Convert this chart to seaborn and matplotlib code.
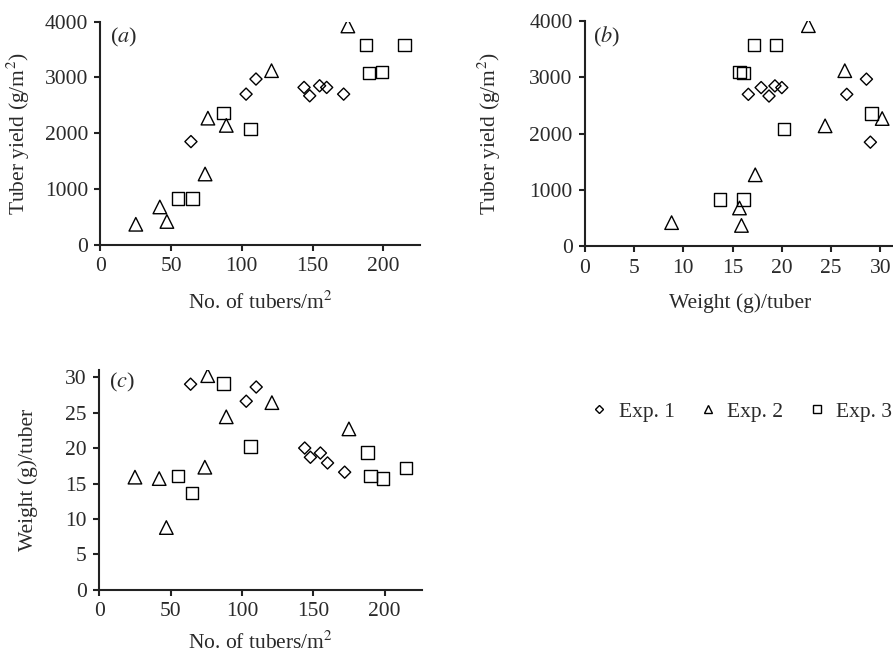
import numpy as np
import pandas as pd
import matplotlib
matplotlib.use("Agg")
import matplotlib.pyplot as plt
from matplotlib.lines import Line2D
import seaborn as sns

# Exp. 1 (diamonds)
n_exp1 = [64, 103, 110, 144, 148, 155, 160, 172]
w_exp1 = [29.0, 26.6, 28.6, 20.0, 18.7, 19.3, 17.9, 16.6]
y_exp1 = [1850, 2700, 2970, 2820, 2670, 2850, 2820, 2700]

# Exp. 2 (triangles)
n_exp2 = [25, 42, 47, 74, 76, 89, 121, 175]
w_exp2 = [15.9, 15.7, 8.8, 17.3, 30.2, 24.4, 26.4, 22.7]
y_exp2 = [370, 680, 420, 1270, 2270, 2140, 3120, 3920]

# Exp. 3 (squares)
n_exp3 = [55, 65, 87, 106, 188, 190, 199, 215]
w_exp3 = [16.1, 13.7, 29.1, 20.2, 19.4, 16.1, 15.7, 17.2]
y_exp3 = [830, 830, 2360, 2080, 3580, 3080, 3100, 3580]

exp_labels = ["Exp. 1", "Exp. 2", "Exp. 3"]

df = pd.concat([
    pd.DataFrame({"n": n_exp1, "w": w_exp1, "y": y_exp1, "exp": "Exp. 1"}),
    pd.DataFrame({"n": n_exp2, "w": w_exp2, "y": y_exp2, "exp": "Exp. 2"}),
    pd.DataFrame({"n": n_exp3, "w": w_exp3, "y": y_exp3, "exp": "Exp. 3"}),
])

sns.set_style("ticks")
plt.rcParams["font.family"] = ["Liberation Serif", "DejaVu Serif"]
plt.rcParams["mathtext.fontset"] = "stix"
plt.rcParams["font.size"] = 15.5

FS = 15.5
TXT = "#2a2a2a"
markers = {"Exp. 1": "D", "Exp. 2": "^", "Exp. 3": "s"}
sizes = {"Exp. 1": 38, "Exp. 2": 95, "Exp. 3": 80}

fig = plt.figure(figsize=(8.93, 6.62), dpi=100)
ax_a = fig.add_axes([0.1125, 0.630, 0.3578, 0.3375])
ax_b = fig.add_axes([0.6551, 0.628, 0.3449, 0.3400])
ax_c = fig.add_axes([0.1112, 0.1088, 0.3610, 0.3323])


def draw(ax, xcol, ycol):
    for e in exp_labels:
        sub = df[df["exp"] == e]
        sns.scatterplot(data=sub, x=xcol, y=ycol, ax=ax, marker=markers[e],
                        s=sizes[e], facecolor="none", edgecolor="black",
                        linewidth=1.0, legend=False, zorder=3)
    sns.despine(ax=ax)
    for sp in ["left", "bottom"]:
        ax.spines[sp].set_linewidth(1.5)
        ax.spines[sp].set_color("#222222")
    ax.tick_params(direction="out", length=4, width=1.5, color="#222222",
                   labelsize=FS, pad=5, labelcolor=TXT)
    ax.set_xlabel("")
    ax.set_ylabel("")


draw(ax_a, "n", "y")
ax_a.set_xlim(0, 226)
ax_a.set_ylim(0, 4000)
ax_a.set_xticks([0, 50, 100, 150, 200])
ax_a.set_yticks([0, 1000, 2000, 3000, 4000])
ax_a.set_xlabel("No. of tubers/m$^2$", fontsize=FS, color=TXT)
ax_a.xaxis.set_label_coords(0.5, -0.21)
ax_a.set_ylabel("Tuber yield (g/m$^2$)", fontsize=FS, color=TXT)
ax_a.yaxis.set_label_coords(-0.215, 0.5)
ax_a.text(0.03, 0.93, "($\\mathit{a}$)", transform=ax_a.transAxes,
          fontsize=16, va="center", ha="left", color=TXT)

draw(ax_b, "w", "y")
ax_b.set_xlim(0, 31.3)
ax_b.set_ylim(0, 4000)
ax_b.set_xticks([0, 5, 10, 15, 20, 25, 30])
ax_b.set_yticks([0, 1000, 2000, 3000, 4000])
ax_b.set_xlabel("Weight (g)/tuber", fontsize=FS, color=TXT)
ax_b.xaxis.set_label_coords(0.505, -0.21)
ax_b.set_ylabel("Tuber yield (g/m$^2$)", fontsize=FS, color=TXT)
ax_b.yaxis.set_label_coords(-0.265, 0.5)
ax_b.text(0.025, 0.93, "($\\mathit{b}$)", transform=ax_b.transAxes,
          fontsize=16, va="center", ha="left", color=TXT)

draw(ax_c, "n", "w")
ax_c.set_xlim(0, 226)
ax_c.set_ylim(0, 31)
ax_c.set_xticks([0, 50, 100, 150, 200])
ax_c.set_yticks([0, 5, 10, 15, 20, 25, 30])
ax_c.set_xlabel("No. of tubers/m$^2$", fontsize=FS, color=TXT)
ax_c.xaxis.set_label_coords(0.5, -0.19)
ax_c.set_ylabel("Weight (g)/tuber", fontsize=FS, color=TXT)
ax_c.yaxis.set_label_coords(-0.19, 0.5)
ax_c.text(0.03, 0.945, "($\\mathit{c}$)", transform=ax_c.transAxes,
          fontsize=16, va="center", ha="left", color=TXT)

handles = [
    Line2D([], [], linestyle="none", marker=markers[e], markersize=ms,
           markerfacecolor="none", markeredgecolor="black", markeredgewidth=1.0)
    for e, ms in zip(exp_labels, [4.5, 5.5, 6])
]
fig.legend(handles, exp_labels, loc="center", bbox_to_anchor=(0.829, 0.378),
           ncol=3, frameon=False, fontsize=FS, handlelength=1.0,
           handletextpad=0.4, columnspacing=1.05, labelcolor=TXT)

fig.savefig("out.png", dpi=100)
